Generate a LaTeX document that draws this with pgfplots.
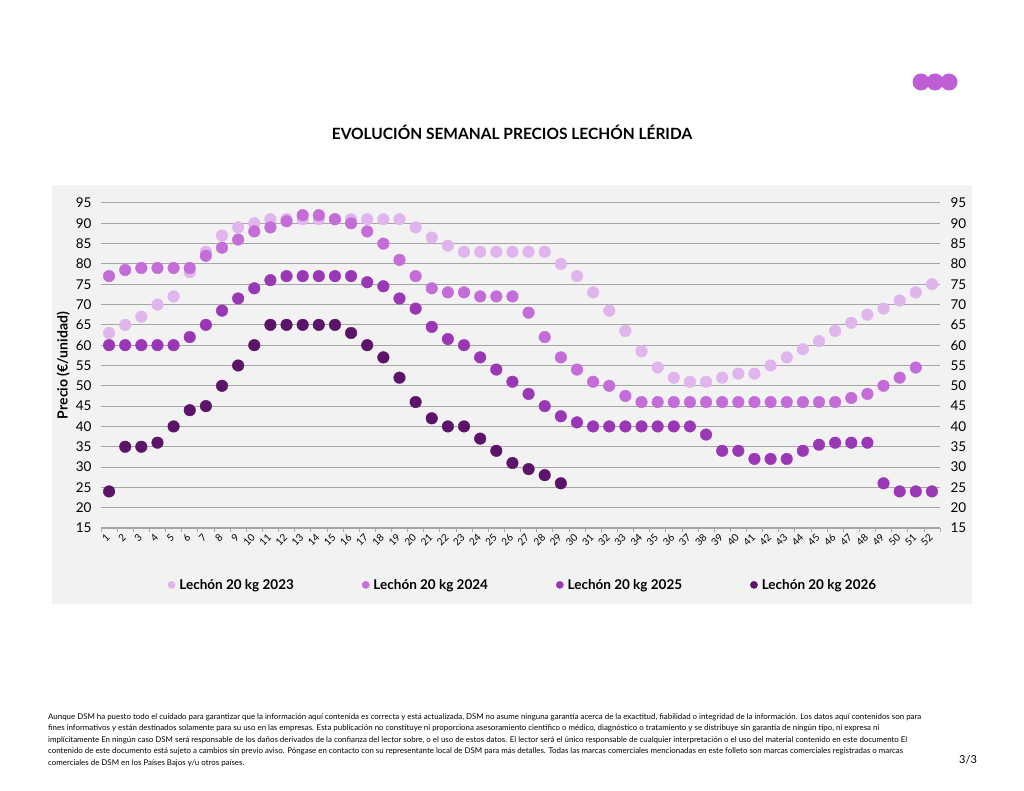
\documentclass[border=0pt]{standalone}
\usepackage{fontspec}
\setmainfont{Lato}
\usepackage{pgfplots}
\pgfplotsset{compat=1.18}
\definecolor{cA}{HTML}{E0B4EC}
\definecolor{cB}{HTML}{C46CD8}
\definecolor{cC}{HTML}{9A37B4}
\definecolor{cD}{HTML}{5A1468}
\definecolor{panel}{HTML}{F2F2F2}
\definecolor{logo}{HTML}{BE5FD6}
\definecolor{gridc}{HTML}{A6A6A6}
\begin{document}
\begin{tikzpicture}[x=1pt,y=1pt]
\fill[white] (0,0) rectangle (1024,791);
\fill[panel] (52,187) rectangle (972,606);
\fill[logo] (921,709) circle (8.5);
\fill[logo] (935,709) circle (8.5);
\fill[logo] (949,709) circle (8.5);
\node[font=\bfseries\fontsize{15.5}{18}\selectfont] at (512,659) {EVOLUCIÓN SEMANAL PRECIOS LECHÓN LÉRIDA};
\begin{axis}[
  at={(101pt,263pt)}, anchor=south west, scale only axis,
  width=839pt, height=325pt,
  xmin=0.5, xmax=52.5, ymin=15, ymax=95,
  /pgf/number format/assume math mode=true,
  axis x line*=bottom, axis y line*=left,
  x axis line style={draw=gridc, line width=0.8pt, -},
  y axis line style={draw=none},
  xtick={1,...,52},
  minor xtick={0.5,1.5,...,52.5},
  major x tick style={draw=none},
  minor x tick style={draw=gridc, line width=0.7pt},
  xtick align=outside,
  minor tick length=4pt,
  ytick={15,20,...,95},
  ytick style={draw=none},
  ymajorgrids, xmajorgrids=false, xminorgrids=false,
  major grid style={draw=gridc, line width=1pt},
  tick label style={font=\fontsize{13.5}{15}\selectfont},
  xticklabel style={font=\fontsize{10}{11}\selectfont, rotate=45, anchor=east, yshift=-2pt},
  yticklabel style={xshift=-6pt},
  ylabel={Precio (€/unidad)},
  every axis y label/.style={at={(axis description cs:-0.045,0.5)}, rotate=90, anchor=center, font=\bfseries\fontsize{14}{16}\selectfont},
  legend columns=4,
  legend style={draw=none, fill=none, at={(axis description cs:0.503,-0.175)}, anchor=center,
    font=\bfseries\fontsize{13.5}{15}\selectfont,
    /tikz/every odd column/.append style={column sep=2pt},
    /tikz/every even column/.append style={column sep=66pt}},
  legend image code/.code={\fill[#1] (0pt,0pt) circle (3.6pt);},
]
\addplot[only marks, mark=*, mark size=5.8pt, color=cA] coordinates {
(1,63)(2,65)(3,67)(4,70)(5,72)(6,78)(7,83)(8,87)(9,89)(10,90)(11,91)(12,91)(13,91)(14,91)(15,91)(16,91)(17,91)(18,91)(19,91)(20,89)(21,86.5)(22,84.5)(23,83)(24,83)(25,83)(26,83)(27,83)(28,83)(29,80)(30,77)(31,73)(32,68.5)(33,63.5)(34,58.5)(35,54.5)(36,52)(37,51)(38,51)(39,52)(40,53)(41,53)(42,55)(43,57)(44,59)(45,61)(46,63.5)(47,65.5)(48,67.5)(49,69)(50,71)(51,73)(52,75)};
\addlegendentry{Lechón 20 kg 2023}
\addplot[only marks, mark=*, mark size=5.8pt, color=cB] coordinates {
(1,77)(2,78.5)(3,79)(4,79)(5,79)(6,79)(7,82)(8,84)(9,86)(10,88)(11,89)(12,90.5)(13,92)(14,92)(15,91)(16,90)(17,88)(18,85)(19,81)(20,77)(21,74)(22,73)(23,73)(24,72)(25,72)(26,72)(27,68)(28,62)(29,57)(30,54)(31,51)(32,50)(33,47.5)(34,46)(35,46)(36,46)(37,46)(38,46)(39,46)(40,46)(41,46)(42,46)(43,46)(44,46)(45,46)(46,46)(47,47)(48,48)(49,50)(50,52)(51,54.5)};
\addlegendentry{Lechón 20 kg 2024}
\addplot[only marks, mark=*, mark size=5.8pt, color=cC] coordinates {
(1,60)(2,60)(3,60)(4,60)(5,60)(6,62)(7,65)(8,68.5)(9,71.5)(10,74)(11,76)(12,77)(13,77)(14,77)(15,77)(16,77)(17,75.5)(18,74.5)(19,71.5)(20,69)(21,64.5)(22,61.5)(23,60)(24,57)(25,54)(26,51)(27,48)(28,45)(29,42.5)(30,41)(31,40)(32,40)(33,40)(34,40)(35,40)(36,40)(37,40)(38,38)(39,34)(40,34)(41,32)(42,32)(43,32)(44,34)(45,35.5)(46,36)(47,36)(48,36)(49,26)(50,24)(51,24)(52,24)};
\addlegendentry{Lechón 20 kg 2025}
\addplot[only marks, mark=*, mark size=5.8pt, color=cD] coordinates {
(1,24)(2,35)(3,35)(4,36)(5,40)(6,44)(7,45)(8,50)(9,55)(10,60)(11,65)(12,65)(13,65)(14,65)(15,65)(16,63)(17,60)(18,57)(19,52)(20,46)(21,42)(22,40)(23,40)(24,37)(25,34)(26,31)(27,29.5)(28,28)(29,26)};
\addlegendentry{Lechón 20 kg 2026}
\end{axis}
\begin{axis}[
  at={(101pt,263pt)}, anchor=south west, scale only axis,
  width=839pt, height=325pt,
  xmin=0.5, xmax=52.5, ymin=15, ymax=95,
  /pgf/number format/assume math mode=true,
  hide x axis,
  axis y line*=right,
  y axis line style={draw=none},
  ytick={15,20,...,95},
  ytick style={draw=none},
  yticklabel pos=right,
  yticklabel style={xshift=7pt},
  tick label style={font=\fontsize{13.5}{15}\selectfont},
]
\end{axis}
\node[anchor=north west, align=left, inner sep=0pt, font=\fontsize{7.9}{11.5}\selectfont] at (48,78) {Aunque DSM ha puesto todo el cuidado para garantizar que la información aquí contenida es correcta y está actualizada, DSM no asume ninguna garantía acerca de la exactitud, fiabilidad o integridad de la información. Los datos aquí contenidos son para\\
fines informativos y están destinados solamente para su uso en las empresas. Esta publicación no constituye ni proporciona asesoramiento científico o médico, diagnóstico o tratamiento y se distribuye sin garantía de ningún tipo, ni expresa ni\\
implícitamente En ningún caso DSM será responsable de los daños derivados de la confianza del lector sobre, o el uso de estos datos. El lector será el único responsable de cualquier interpretación o el uso del material contenido en este documento El\\
contenido de este documento está sujeto a cambios sin previo aviso. Póngase en contacto con su representante local de DSM para más detalles. Todas las marcas comerciales mencionadas en este folleto son marcas comerciales registradas o marcas\\
comerciales de DSM en los Países Bajos y/u otros países.};
\node[font=\fontsize{11}{13}\selectfont] at (968,31) {3/3};
\end{tikzpicture}
\end{document}
